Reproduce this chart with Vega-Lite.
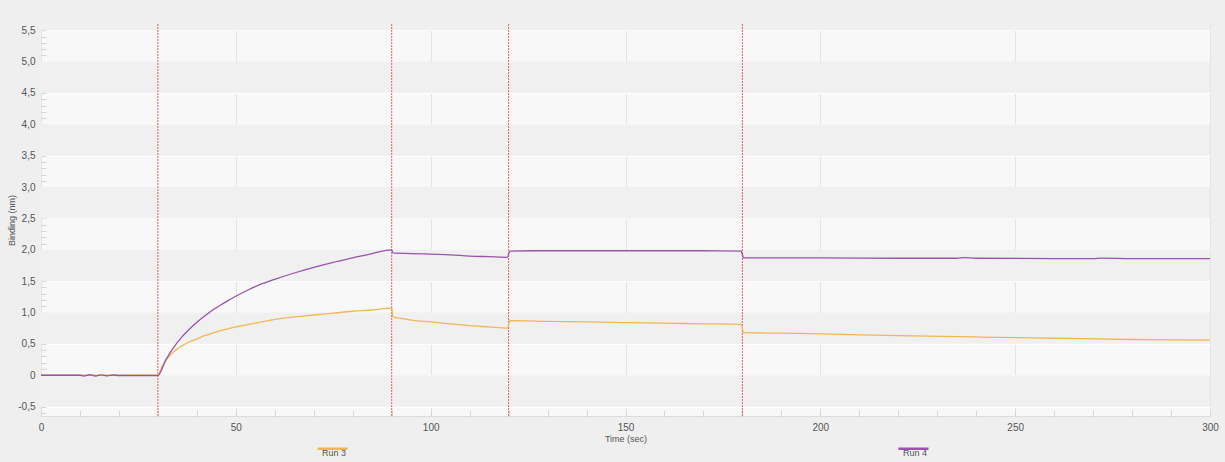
{
  "$schema": "https://vega.github.io/schema/vega-lite/v6.json",
  "width": 1169,
  "height": 392,
  "autosize": {"type": "none"},
  "padding": {"left": 41, "top": 24, "right": 15, "bottom": 46},
  "background": "#efefef",
  "config": {
    "font": "Liberation Sans",
    "view": {"fill": "#f8f8f8", "stroke": "#dcdcdc", "strokeWidth": 1},
    "axis": {"labelColor": "#555555", "titleColor": "#555555", "labelFont": "Liberation Sans", "titleFont": "Liberation Sans", "labelFontSize": 10, "titleFontSize": 9, "titleFontWeight": "normal", "domain": false, "labelOverlap": false, "labelFlush": false, "tickCount": 200}
  },
  "datasets": {
    "bands": [
      {"y0": -0.5, "y1": 0}, {"y0": 0.5, "y1": 1}, {"y0": 1.5, "y1": 2}, {"y0": 2.5, "y1": 3},
      {"y0": 3.5, "y1": 4}, {"y0": 4.5, "y1": 5}, {"y0": 5.5, "y1": 5.6}
    ],
    "events": [{"t": 30}, {"t": 90}, {"t": 120}, {"t": 180}],
    "series": [
      {"run": "Run 3", "t": 0, "b": 0.003}, {"run": "Run 3", "t": 10, "b": 0.002}, {"run": "Run 3", "t": 20, "b": 0.003}, {"run": "Run 3", "t": 30, "b": 0.0},
      {"run": "Run 3", "t": 31, "b": 0.13}, {"run": "Run 3", "t": 32, "b": 0.23}, {"run": "Run 3", "t": 33, "b": 0.31}, {"run": "Run 3", "t": 34, "b": 0.37},
      {"run": "Run 3", "t": 35, "b": 0.42}, {"run": "Run 3", "t": 36, "b": 0.46}, {"run": "Run 3", "t": 38, "b": 0.53}, {"run": "Run 3", "t": 40, "b": 0.58},
      {"run": "Run 3", "t": 42, "b": 0.63}, {"run": "Run 3", "t": 44, "b": 0.67}, {"run": "Run 3", "t": 46, "b": 0.71}, {"run": "Run 3", "t": 48, "b": 0.74},
      {"run": "Run 3", "t": 50, "b": 0.77}, {"run": "Run 3", "t": 55, "b": 0.83}, {"run": "Run 3", "t": 60, "b": 0.89}, {"run": "Run 3", "t": 65, "b": 0.93},
      {"run": "Run 3", "t": 70, "b": 0.96}, {"run": "Run 3", "t": 75, "b": 0.99}, {"run": "Run 3", "t": 80, "b": 1.02}, {"run": "Run 3", "t": 85, "b": 1.04},
      {"run": "Run 3", "t": 90, "b": 1.07}, {"run": "Run 3", "t": 90.3, "b": 0.93}, {"run": "Run 3", "t": 92, "b": 0.91}, {"run": "Run 3", "t": 95, "b": 0.88},
      {"run": "Run 3", "t": 100, "b": 0.85}, {"run": "Run 3", "t": 105, "b": 0.82}, {"run": "Run 3", "t": 110, "b": 0.79}, {"run": "Run 3", "t": 115, "b": 0.77},
      {"run": "Run 3", "t": 119.7, "b": 0.75}, {"run": "Run 3", "t": 120.3, "b": 0.87}, {"run": "Run 3", "t": 130, "b": 0.86}, {"run": "Run 3", "t": 140, "b": 0.85},
      {"run": "Run 3", "t": 150, "b": 0.84}, {"run": "Run 3", "t": 160, "b": 0.83}, {"run": "Run 3", "t": 170, "b": 0.82}, {"run": "Run 3", "t": 179.7, "b": 0.81},
      {"run": "Run 3", "t": 180.3, "b": 0.68}, {"run": "Run 3", "t": 190, "b": 0.67}, {"run": "Run 3", "t": 200, "b": 0.66}, {"run": "Run 3", "t": 220, "b": 0.63},
      {"run": "Run 3", "t": 240, "b": 0.61}, {"run": "Run 3", "t": 260, "b": 0.59}, {"run": "Run 3", "t": 280, "b": 0.57}, {"run": "Run 3", "t": 300, "b": 0.56},
      {"run": "Run 4", "t": 0, "b": 0.0}, {"run": "Run 4", "t": 10, "b": 0.0}, {"run": "Run 4", "t": 11, "b": -0.012}, {"run": "Run 4", "t": 12.5, "b": 0.008},
      {"run": "Run 4", "t": 14, "b": -0.012}, {"run": "Run 4", "t": 15.5, "b": 0.006}, {"run": "Run 4", "t": 17, "b": -0.01}, {"run": "Run 4", "t": 18.5, "b": 0.004},
      {"run": "Run 4", "t": 20, "b": -0.004}, {"run": "Run 4", "t": 25, "b": -0.004}, {"run": "Run 4", "t": 30, "b": -0.004},
      {"run": "Run 4", "t": 32, "b": 0.24}, {"run": "Run 4", "t": 34, "b": 0.44}, {"run": "Run 4", "t": 36, "b": 0.6}, {"run": "Run 4", "t": 38, "b": 0.73},
      {"run": "Run 4", "t": 40, "b": 0.845}, {"run": "Run 4", "t": 42, "b": 0.945}, {"run": "Run 4", "t": 44, "b": 1.035}, {"run": "Run 4", "t": 46, "b": 1.115},
      {"run": "Run 4", "t": 48, "b": 1.19}, {"run": "Run 4", "t": 50, "b": 1.26}, {"run": "Run 4", "t": 53, "b": 1.355}, {"run": "Run 4", "t": 56, "b": 1.44},
      {"run": "Run 4", "t": 60, "b": 1.53}, {"run": "Run 4", "t": 65, "b": 1.63}, {"run": "Run 4", "t": 70, "b": 1.72}, {"run": "Run 4", "t": 75, "b": 1.8},
      {"run": "Run 4", "t": 80, "b": 1.87}, {"run": "Run 4", "t": 85, "b": 1.94}, {"run": "Run 4", "t": 90, "b": 2.0}, {"run": "Run 4", "t": 90.3, "b": 1.95},
      {"run": "Run 4", "t": 95, "b": 1.94}, {"run": "Run 4", "t": 100, "b": 1.93}, {"run": "Run 4", "t": 105, "b": 1.92}, {"run": "Run 4", "t": 110, "b": 1.9},
      {"run": "Run 4", "t": 115, "b": 1.89}, {"run": "Run 4", "t": 119.7, "b": 1.88}, {"run": "Run 4", "t": 120.3, "b": 1.98}, {"run": "Run 4", "t": 130, "b": 1.985},
      {"run": "Run 4", "t": 150, "b": 1.985}, {"run": "Run 4", "t": 170, "b": 1.985}, {"run": "Run 4", "t": 179.7, "b": 1.98}, {"run": "Run 4", "t": 180.3, "b": 1.87},
      {"run": "Run 4", "t": 190, "b": 1.87}, {"run": "Run 4", "t": 200, "b": 1.87}, {"run": "Run 4", "t": 220, "b": 1.865}, {"run": "Run 4", "t": 235, "b": 1.865},
      {"run": "Run 4", "t": 237, "b": 1.876}, {"run": "Run 4", "t": 240, "b": 1.865}, {"run": "Run 4", "t": 260, "b": 1.86}, {"run": "Run 4", "t": 270, "b": 1.86},
      {"run": "Run 4", "t": 272, "b": 1.866}, {"run": "Run 4", "t": 280, "b": 1.86}, {"run": "Run 4", "t": 300, "b": 1.86}
    ]
  },
  "layer": [
    {
      "data": {"name": "bands"},
      "mark": {"type": "rect", "fill": "#f0f0f0"},
      "encoding": {
        "y": {"field": "y0", "type": "quantitative", "scale": {"domain": [-0.65, 5.6], "nice": false, "zero": false},
          "axis": {
            "title": "Binding (nm)",
            "values": [-0.6,-0.5,-0.4,-0.3,-0.2,-0.1,0,0.1,0.2,0.3,0.4,0.5,0.6,0.7,0.8,0.9,1,1.1,1.2,1.3,1.4,1.5,1.6,1.7,1.8,1.9,2,2.1,2.2,2.3,2.4,2.5,2.6,2.7,2.8,2.9,3,3.1,3.2,3.3,3.4,3.5,3.6,3.7,3.8,3.9,4,4.1,4.2,4.3,4.4,4.5,4.6,4.7,4.8,4.9,5,5.1,5.2,5.3,5.4,5.5],
            "tickCount": 200,
            "labelExpr": "abs(round(datum.value*10)) % 5 == 0 ? (datum.value == 0 ? '0' : replace(replace(format(datum.value, '.1f'), '.', ','), '\u2212', '-')) : ''",
            "tickSize": -5, "tickColor": "#d6d6d6", "labelPadding": 11,
            "grid": true, "gridColor": "#ffffff",
            "gridOpacity": {"condition": {"test": "abs(round(datum.value*10)) % 5 == 0", "value": 1}, "value": 0},
            "titlePadding": 1
          }
        },
        "y2": {"field": "y1"}
      }
    },
    {
      "data": {"name": "events"},
      "mark": {"type": "rule", "color": "#d9474b", "strokeWidth": 1, "strokeDash": [2, 1], "opacity": 0.85},
      "encoding": {
        "x": {"field": "t", "type": "quantitative", "scale": {"domain": [0, 300], "nice": false},
          "axis": {
            "title": "Time (sec)",
            "values": [0,10,20,30,40,50,60,70,80,90,100,110,120,130,140,150,160,170,180,190,200,210,220,230,240,250,260,270,280,290,300],
            "tickCount": 200,
            "labelExpr": "datum.value % 50 == 0 ? datum.label : ''",
            "tickSize": -6, "tickColor": "#d6d6d6", "labelPadding": 12,
            "grid": true, "gridColor": "#e4e4e4",
            "gridOpacity": {"condition": {"test": "datum.value % 50 == 0", "value": 1}, "value": 0},
            "titlePadding": 2
          }
        }
      }
    },
    {
      "data": {"name": "series"},
      "mark": {"type": "line", "strokeWidth": 1.3, "interpolate": "monotone"},
      "encoding": {
        "x": {"field": "t", "type": "quantitative"},
        "y": {"field": "b", "type": "quantitative"},
        "color": {"field": "run", "type": "nominal",
          "scale": {"domain": ["Run 3", "Run 4"], "range": ["#f2b653", "#9a52ad"]},
          "legend": {
            "title": null, "orient": "none", "direction": "horizontal", "columns": 2,
            "legendX": 275, "legendY": 408, "columnPadding": 540,
            "symbolType": "M-1,0L1,0", "symbolSize": 900, "symbolStrokeWidth": 2.5,
            "labelFontSize": 9, "labelColor": "#555555", "labelAlign": "center", "labelBaseline": "top", "labelOffset": -15
          }
        }
      }
    }
  ]
}
